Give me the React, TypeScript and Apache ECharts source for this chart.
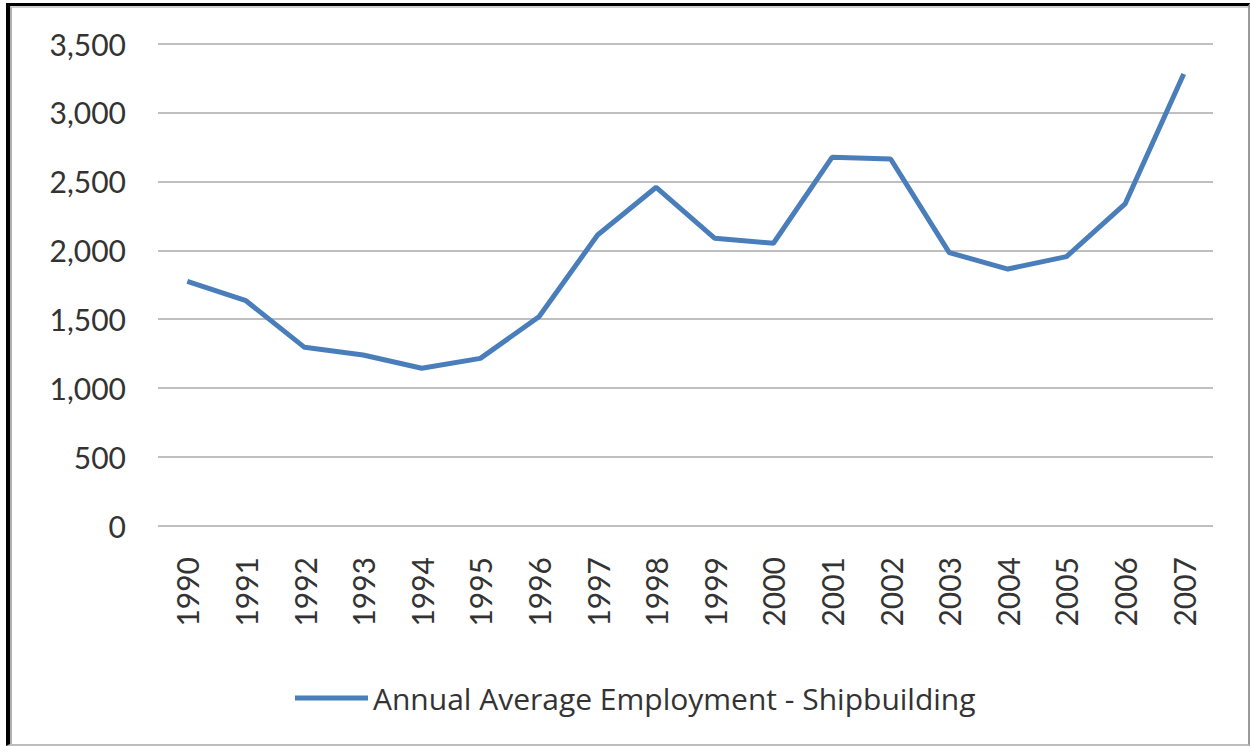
import React, { useEffect, useRef } from "react";
import * as echarts from "echarts";

const years = ["1990","1991","1992","1993","1994","1995","1996","1997","1998","1999","2000","2001","2002","2003","2004","2005","2006","2007"];
const employment = [1775, 1634, 1296, 1240, 1144, 1216, 1518, 2111, 2457, 2087, 2051, 2674, 2662, 1983, 1864, 1954, 2336, 3279];
const seriesName = "Annual Average Employment - Shipbuilding";
const yTicks = { min: 0, max: 3500, interval: 500 };

const FONT = "Lato, 'Open Sans', sans-serif";

export default function App() {
  const ref = useRef<HTMLDivElement>(null);
  useEffect(() => {
    document.body.style.margin = "0";
    if (!ref.current) return;
    const chart = echarts.init(ref.current, null, { renderer: "svg" });
    chart.setOption({
      animation: false,
      backgroundColor: "#ffffff",
      grid: { left: 158, right: 38, top: 43.5, bottom: 220 },
      xAxis: {
        type: "category",
        data: years,
        boundaryGap: true,
        axisLine: { show: false },
        axisTick: { show: false },
        axisLabel: {
          rotate: 90,
          margin: 31,
          fontFamily: FONT,
          fontSize: 30,
          color: "#333333",
          interval: 0,
        },
      },
      yAxis: {
        type: "value",
        min: yTicks.min,
        max: yTicks.max,
        interval: yTicks.interval,
        axisLine: { show: false },
        axisTick: { show: false },
        splitLine: { lineStyle: { color: "#bfbfbf", width: 2 } },
        axisLabel: {
          margin: 32,
          fontFamily: FONT,
          fontSize: 30,
          color: "#333333",
          formatter: (v: number) => v.toLocaleString("en-US"),
        },
      },
      legend: {
        left: 290,
        top: 678,
        itemWidth: 73,
        itemHeight: 5,
        icon: "rect",
        textStyle: { fontFamily: "'Open Sans', sans-serif", fontSize: 30, color: "#333333" },
        itemStyle: { color: "#4a7ebb" },
        data: [seriesName],
      },
      series: [
        {
          name: seriesName,
          type: "line",
          data: employment,
          symbol: "none",
          lineStyle: { color: "#4a7ebb", width: 5 },
          itemStyle: { color: "#4a7ebb" },
        },
      ],
    });
    return () => chart.dispose();
  }, []);
  return (
    <div style={{ position: "relative", width: 1251, height: 746, overflow: "hidden", background: "#fff" }}>
      <div ref={ref} style={{ position: "absolute", left: 0, top: 0, width: 1251, height: 746 }} />
      <div
        style={{
          position: "absolute",
          left: 6,
          top: 3,
          width: 1244,
          height: 743,
          boxSizing: "border-box",
          borderLeft: "4px solid #000",
          borderTop: "3px solid #000",
          borderRight: "2px solid #9a9a9a",
          borderBottom: "2px solid #bdbdbd",
          pointerEvents: "none",
        }}
      >
        <div
          style={{
            position: "absolute",
            left: 0,
            top: 0,
            right: 0,
            bottom: 0,
            borderLeft: "2px solid #b0b0b0",
            borderTop: "2px solid #d0d0d0",
            pointerEvents: "none",
          }}
        />
      </div>
    </div>
  );
}
